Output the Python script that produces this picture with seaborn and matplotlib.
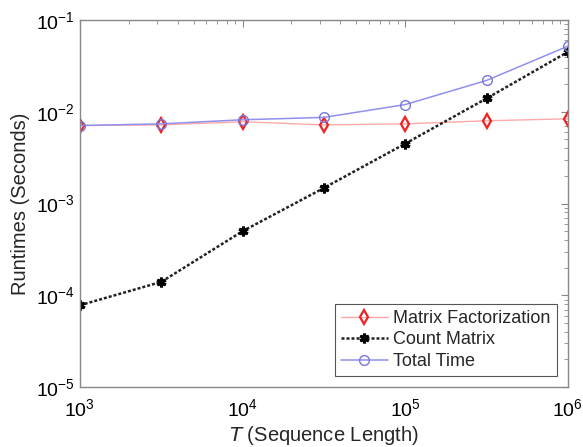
import matplotlib
matplotlib.use("Agg")
import matplotlib.pyplot as plt
import numpy as np
import pandas as pd
import seaborn as sns
from matplotlib.ticker import LogLocator, NullFormatter

seq_len = [1e3, 3162, 1e4, 31623, 1e5, 316228, 1e6]
matrix_fact = [0.0071, 0.0072, 0.0078, 0.0072, 0.0074, 0.0080, 0.0084]
count_matrix = [7.8e-5, 1.4e-4, 5.0e-4, 1.48e-3, 4.5e-3, 0.014, 0.045]
total_time = [0.0071, 0.0074, 0.0082, 0.0087, 0.012, 0.022, 0.052]

sns.set_theme(style="white")
plt.rcParams["font.family"] = ["Liberation Sans", "DejaVu Sans"]

fig = plt.figure(figsize=(5.83, 4.47), dpi=100)
ax = fig.add_axes([0.137, 0.134, 0.837, 0.821])

df = pd.DataFrame({"T": seq_len, "mf": matrix_fact, "cm": count_matrix, "tt": total_time})

sns.lineplot(data=df, x="T", y="mf", ax=ax, color="#ffaaaa", lw=1.0,
             marker="d", markersize=7.5, markerfacecolor="none",
             markeredgecolor="#ee2222", markeredgewidth=1.6,
             label="Matrix Factorization")
sns.lineplot(data=df, x="T", y="cm", ax=ax, color="#222222", lw=1.8,
             linestyle=(0, (1.2, 0.8)), marker=(6, 2, 0), markersize=7,
             markeredgecolor="black", markeredgewidth=2.2,
             label="Count Matrix")
sns.lineplot(data=df, x="T", y="tt", ax=ax, color="#9090ee", lw=1.1,
             marker="o", markersize=7, markerfacecolor="none",
             markeredgecolor="#7777dd", markeredgewidth=1.0,
             label="Total Time")

ax.set_xscale("log")
ax.set_yscale("log")
ax.set_xlim(1e3, 1e6)
ax.set_ylim(1e-5, 1e-1)
ax.xaxis.set_major_locator(LogLocator(base=10, numticks=10))
ax.yaxis.set_major_locator(LogLocator(base=10, numticks=10))
ax.xaxis.set_minor_locator(LogLocator(base=10, subs=np.arange(2, 10), numticks=20))
ax.yaxis.set_minor_locator(LogLocator(base=10, subs=np.arange(2, 10), numticks=20))
ax.xaxis.set_minor_formatter(NullFormatter())
ax.yaxis.set_minor_formatter(NullFormatter())
ax.tick_params(which="both", direction="in", top=True, right=True, colors="#888888",
               labelcolor="black", labelsize=14)
ax.tick_params(which="major", length=5, width=0.8)
ax.tick_params(which="minor", length=3, width=0.6)
ax.tick_params(axis="x", pad=8)
for s in ax.spines.values():
    s.set_color("#888888")
    s.set_linewidth(1.0)

ax.set_xlabel("$T$ (Sequence Length)", fontsize=14.5, labelpad=3)
ax.set_ylabel("Runtimes (Seconds)", fontsize=14.5, labelpad=4)
ax.grid(False)

leg = ax.legend(loc="lower right", fontsize=13, frameon=True, fancybox=False,
                edgecolor="#555555", framealpha=1, borderpad=0.35, labelspacing=0.25,
                handlelength=2.6, handletextpad=0.3, borderaxespad=0.6)
leg.get_frame().set_linewidth(0.8)

fig.savefig("out.png", dpi=100)
